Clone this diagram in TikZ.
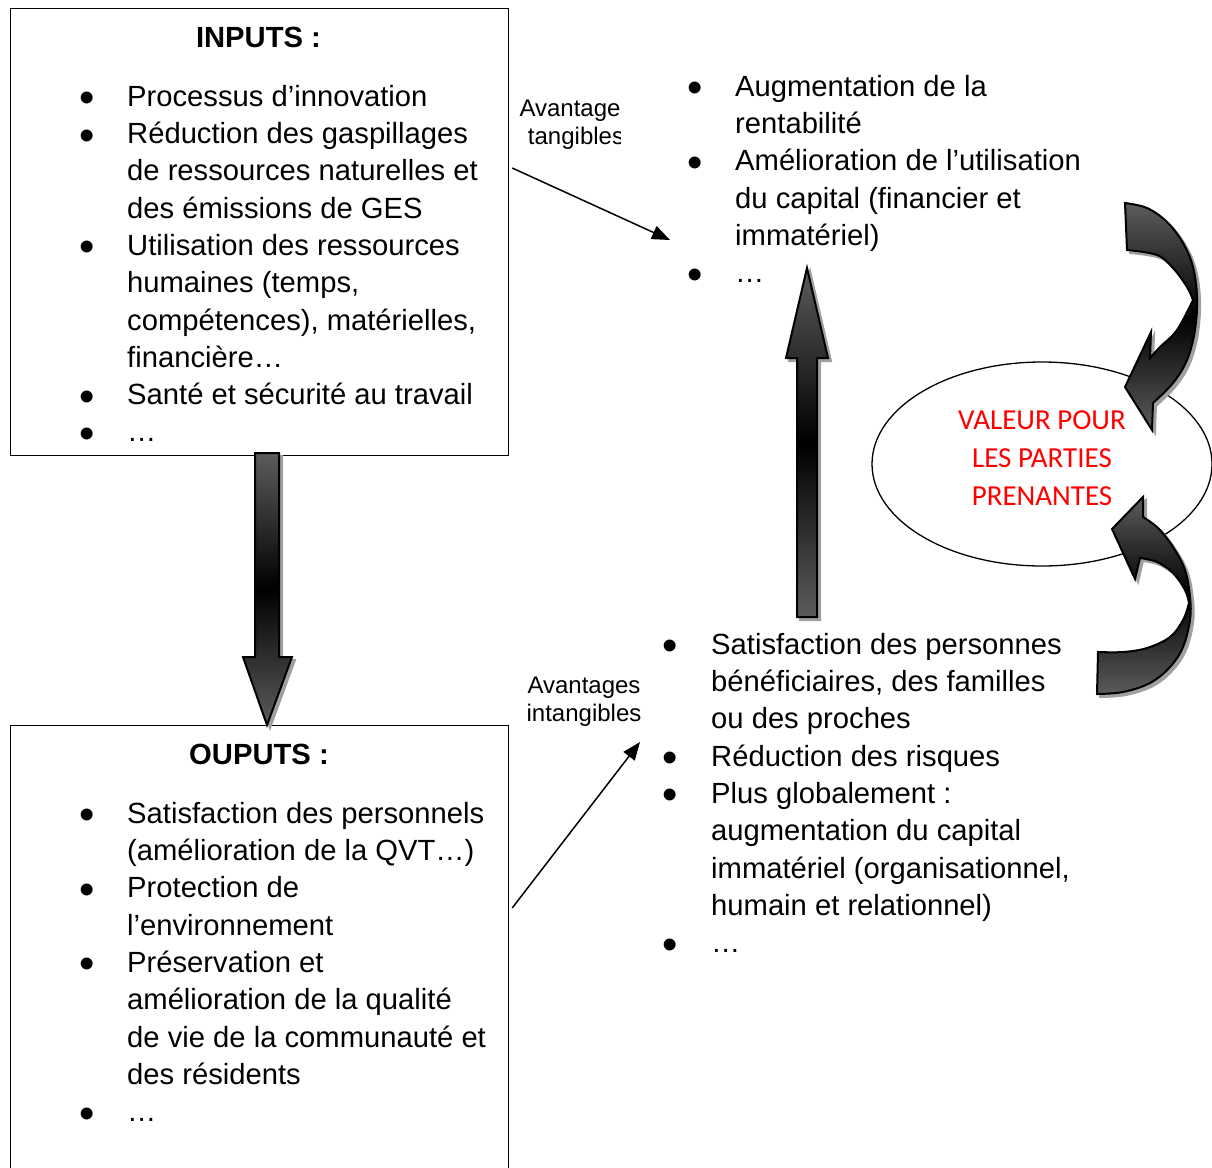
\documentclass[tikz,border=0pt]{standalone}
\usepackage{fontspec}
\setmainfont{Liberation Sans}
\newfontfamily\calib{Carlito}
\usepackage{array}
\usetikzlibrary{shapes.geometric,arrows.meta,calc}
\definecolor{agray}{RGB}{92,92,92}
\definecolor{sgray}{RGB}{160,160,160}
\newcommand{\bodyfont}{\fontsize{29.2}{37.3}\selectfont}
\newcommand{\bul}{\smash{\raisebox{-6.5pt}{\scalebox{1.5}{\textbullet}}}}
\begin{document}
\begin{tikzpicture}[x=1pt,y=-1pt,
  box/.style={draw, line width=1.2pt, inner sep=0pt, anchor=north west},
  listnode/.style={anchor=north west, inner sep=0pt, font=\bodyfont, align=left},
  titlenode/.style={anchor=base, inner sep=0pt, font=\bodyfont\bfseries},
  smalllab/.style={align=center, inner sep=0pt, font=\fontsize{24}{28}\selectfont},
  thinarrow/.style={line width=1.5pt, -{Triangle[length=18pt,width=14pt]}},
  shadowfill/.style={fill=sgray, draw=sgray, line width=2pt},
  arrowshade/.style={draw=black, line width=2pt, top color=agray, bottom color=agray, middle color=black}
]
\useasboundingbox (0,0) rectangle (1212,1167);
\clip (0,0) rectangle (1212,1167);

% boxes
\node[box, minimum width=498, minimum height=447] (inputs) at (10,8) {};
\node[box, minimum width=498, minimum height=480] (outputs) at (10,725) {};
\node[titlenode] (intitle) at (258.5,47) {INPUTS :};
\node[titlenode] (outtitle) at (259,764) {OUPUTS :};

% lists
\node[listnode] (inlist) at (79,79.9) {\begin{tabular}{@{}p{48pt}@{}l@{}}
\bul & Processus d’innovation\\
\bul & Réduction des gaspillages\\
 & de ressources naturelles et\\
 & des émissions de GES\\
\bul & Utilisation des ressources\\
 & humaines (temps,\\
 & compétences), matérielles,\\
 & financière…\\
\bul & Santé et sécurité au travail\\
\bul & …
\end{tabular}};

\node[listnode] (outlist) at (79,796.9) {\begin{tabular}{@{}p{48pt}@{}l@{}}
\bul & Satisfaction des personnels\\
 & (amélioration de la QVT…)\\
\bul & Protection de\\
 & l’environnement\\
\bul & Préservation et\\
 & amélioration de la qualité\\
 & de vie de la communauté et\\
 & des résidents\\
\bul & …
\end{tabular}};

\node[listnode] (tanglist) at (687,69.9) {\begin{tabular}{@{}p{48pt}@{}l@{}}
\bul & Augmentation de la\\
 & rentabilité\\
\bul & Amélioration de l’utilisation\\
 & du capital (financier et\\
 & immatériel)\\
\bul & …
\end{tabular}};

\node[listnode] (intanglist) at (662,627.9) {\begin{tabular}{@{}p{49pt}@{}l@{}}
\bul & Satisfaction des personnes\\
 & bénéficiaires, des familles\\
 & ou des proches\\
\bul & Réduction des risques\\
\bul & Plus globalement :\\
 & augmentation du capital\\
 & immatériel (organisationnel,\\
 & humain et relationnel)\\
\bul & …
\end{tabular}};

% ellipse
\node[draw, ellipse, line width=1.3pt, minimum width=340, minimum height=204, inner sep=0pt] (val) at (1042,464) {};
\node[align=center, inner sep=0pt, text=red, font=\calib\fontsize{29}{38}\selectfont] (valtxt) at (1042,458) {VALEUR POUR\\LES PARTIES\\PRENANTES};

% labels
\begin{scope}
\clip (500,80) rectangle (620,170);
\node[smalllab] (labt) at (576,124.8) {Avantages\\tangibles};
\end{scope}
\node[smalllab] (labi) at (584,701.8) {Avantages\\intangibles};

% thin arrows
\coordinate (a1s) at ($(inputs.north east)+(3,160)$);
\coordinate (a1e) at (670,240);
\draw[thinarrow] (a1s) -- (a1e);
\coordinate (a2s) at ($(outputs.north east)+(3,183)$);
\coordinate (a2e) at (640,742);
\draw[thinarrow] (a2s) -- (a2e);

% block arrows
\foreach \s/\st in {3/shadowfill, 0/arrowshade}{
  \path[\st, shift={(\s,\s)}] (255,453) -- (279,453) -- (279,657) -- (292,657) -- (267,725) -- (243,657) -- (255,657) -- cycle;
  \path[\st, shift={(\s,\s)}] (797,617) -- (817,617) -- (817,358) -- (828,358) -- (807,268) -- (786,358) -- (797,358) -- cycle;
  % curved arrow top
  \path[\st, shift={(\s,\s)}] (1125,203) -- plot[smooth, tension=0.6] coordinates {(1125,203) (1147,208) (1167,222) (1183,243) (1193,267) (1197,297) (1195,330) (1187,360) (1173,383) (1153,403)}
     -- (1152,430) -- (1125,387) -- (1151,332) -- (1150,358)
     -- plot[smooth, tension=0.6] coordinates {(1150,358) (1160,347) (1177,330) (1193,300)}
     -- plot[smooth, tension=0.6] coordinates {(1193,300) (1187,287) (1173,268) (1157,255) (1127,250)} -- cycle;
  % curved arrow bottom
  \path[\st, shift={(\s,\s)}] (1097,694) -- plot[smooth, tension=0.6] coordinates {(1097,694) (1123,692) (1150,683) (1170,667) (1183,647) (1190,620) (1190,597) (1185,570) (1173,547) (1158,528) (1143,517)}
     -- (1143,497) -- (1112,529) -- (1135,579) -- (1140,558)
     -- plot[smooth, tension=0.6] coordinates {(1140,558) (1157,562) (1173,573) (1185,590) (1189,603)}
     -- plot[smooth, tension=0.6] coordinates {(1189,603) (1183,620) (1170,637) (1147,648) (1123,652) (1098,652)} -- cycle;
}
\end{tikzpicture}
\end{document}
